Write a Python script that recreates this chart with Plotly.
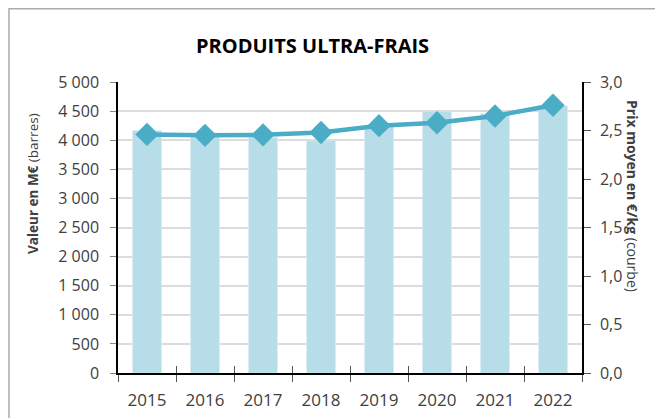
import plotly.graph_objects as go

years = ["2015", "2016", "2017", "2018", "2019", "2020", "2021", "2022"]
valeur = [4165, 4050, 4050, 3990, 4235, 4500, 4460, 4590]
prix = [2.46, 2.45, 2.455, 2.48, 2.55, 2.58, 2.65, 2.76]
left_ticks = [0, 500, 1000, 1500, 2000, 2500, 3000, 3500, 4000, 4500, 5000]
right_ticks = [0.0, 0.5, 1.0, 1.5, 2.0, 2.5, 3.0]

FONT = "Open Sans"
TXT = "#404040"
OFF = 8  # default page body margin
W, H = 663 - OFF, 418 - OFF
L, R, T, B = 110, 81, 74, 45
PW, PH = W - L - R, H - T - B


def px(x):
    return (x - OFF - L) / PW


def py(y):
    return (H - B - (y - OFF)) / PH


fig = go.Figure()
fig.add_trace(go.Bar(x=years, y=valeur, marker_color="#b7dde8", width=0.5,
                     xaxis="x", yaxis="y", hoverinfo="skip"))
fig.add_trace(go.Scatter(x=years, y=prix, mode="lines+markers",
                         line=dict(color="#4bacc6", width=4.5),
                         marker=dict(symbol="diamond", size=18, color="#4bacc6"),
                         xaxis="x2", yaxis="y2"))

fig.update_layout(
    width=W, height=H,
    margin=dict(l=L, r=R, t=T, b=B, autoexpand=False),
    paper_bgcolor="white", plot_bgcolor="white",
    showlegend=False,
    separators=", ",
    font=dict(family=FONT, color=TXT),
    xaxis=dict(type="category", tickson="boundaries", ticks="outside", ticklen=7,
               tickcolor="#555", showline=True, linecolor="black", linewidth=1.5,
               tickfont=dict(size=17, color=TXT), showgrid=False, range=[-0.5, 7.5],
               ticklabelstandoff=11),
    xaxis2=dict(type="category", overlaying="x", matches="x", anchor="y",
                tickson="boundaries", ticks="inside", ticklen=7, tickcolor="#555",
                showticklabels=False, showgrid=False, showline=False),
    yaxis=dict(range=[0, 5000], tickvals=left_ticks, tickformat=",d",
               ticks="outside", ticklen=6, tickcolor="#888", showline=True,
               linecolor="black", linewidth=1.5, gridcolor="#dcdcdc", gridwidth=1.5,
               zeroline=False, tickfont=dict(size=16, color=TXT), ticklabelstandoff=8),
    yaxis4=dict(range=[0, 5000], tickvals=left_ticks, overlaying="y", side="left",
                anchor="x", ticks="inside", ticklen=6, tickcolor="#888",
                showticklabels=False, showgrid=False, zeroline=False, showline=False),
    yaxis2=dict(range=[0, 3], tickvals=right_ticks, tickformat=".1f",
                overlaying="y", side="right", anchor="x", ticks="outside", ticklen=7,
                tickcolor="#555", showline=True, linecolor="black", linewidth=1.5,
                showgrid=False, zeroline=False, tickfont=dict(size=16, color=TXT),
                ticklabelstandoff=6),
    yaxis3=dict(range=[0, 3], tickvals=right_ticks, overlaying="y", side="right",
                anchor="x", ticks="inside", ticklen=7, tickcolor="#555",
                showticklabels=False, showgrid=False, zeroline=False, showline=False),
)

fig.add_shape(type="rect", xref="paper", yref="paper",
              x0=px(9), x1=px(660), y0=py(440), y1=py(OFF + 0.8),
              line=dict(color="#aaaaaa", width=1.5), layer="below")

fig.add_annotation(text="<b>PRODUITS ULTRA-FRAIS</b>", xref="paper", yref="paper",
                   x=px(312), y=py(45), xanchor="center", yanchor="middle",
                   showarrow=False, font=dict(size=20, color="black", family=FONT))
fig.add_annotation(text="<b>Valeur en M€</b> (barres)", xref="paper", yref="paper",
                   x=px(33), y=py(184), xanchor="center", yanchor="middle",
                   showarrow=False, textangle=-90,
                   font=dict(size=13.5, color=TXT, family=FONT))
fig.add_annotation(text="<b>Prix moyen en €/kg</b> (courbe)", xref="paper", yref="paper",
                   x=px(633), y=py(196), xanchor="center", yanchor="middle",
                   showarrow=False, textangle=90,
                   font=dict(size=14, color=TXT, family=FONT))

fig.write_html("out.html")
